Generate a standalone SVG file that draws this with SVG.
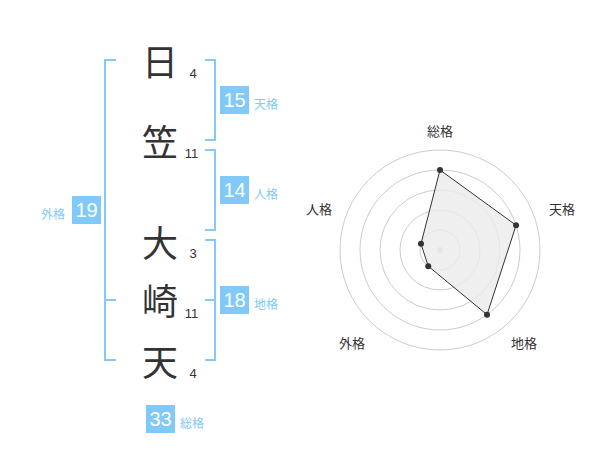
<svg xmlns="http://www.w3.org/2000/svg" width="600" height="470" viewBox="0 0 600 470">
<style>
.ch{font-family:"Noto Sans CJK JP","Noto Sans",sans-serif;font-size:36px;fill:#333;text-anchor:middle;dominant-baseline:central}
.st{font-family:"Liberation Sans",Arial,sans-serif;font-size:13px;fill:#333;text-anchor:middle;dominant-baseline:central}
.br{fill:none;stroke:#85c9f7;stroke-width:2}
.bx{fill:#80c9f8}
.bn{font-family:"Liberation Sans",Arial,sans-serif;font-size:20px;fill:#fff;text-anchor:middle;dominant-baseline:central}
.bl{font-family:"Noto Sans CJK JP",sans-serif;font-size:12px;fill:#80c9f8;dominant-baseline:central}
.rg{fill:none;stroke:#ccc;stroke-width:1}
.rl{font-family:"Noto Sans CJK JP",sans-serif;font-size:13px;fill:#333;text-anchor:middle;dominant-baseline:central}
.pt{fill:#333}
</style>
<rect width="600" height="470" fill="#fff"/>
<g id="chars">
<text class="ch" x="160" y="60">日</text>
<text class="ch" x="160" y="140">笠</text>
<text class="ch" x="160" y="241">大</text>
<text class="ch" x="160" y="299">崎</text>
<text class="ch" x="160" y="360">天</text>
<text class="st" x="193" y="73.5">4</text>
<text class="st" x="191.5" y="153.5">11</text>
<text class="st" x="193" y="253.5">3</text>
<text class="st" x="191.5" y="313.5">11</text>
<text class="st" x="193" y="373.5">4</text>
</g>
<g id="connectors">
<path class="br" d="M116,60 H105 V360 H116 M105,300 H116"/>
<path class="br" d="M205,60 H215 V140 H205"/>
<path class="br" d="M205,150 H215 V230 H205"/>
<path class="br" d="M205,240 H215 V360 H205 M205,300 H215"/>
</g>
<g id="tenkaku">
<rect class="bx" x="220" y="86" width="29" height="28"/>
<text class="bn" x="234.5" y="100">15</text>
<text class="bl" x="254" y="103">天格</text>
</g>
<g id="jinkaku">
<rect class="bx" x="220" y="176" width="29" height="28"/>
<text class="bn" x="234.5" y="190">14</text>
<text class="bl" x="254" y="193">人格</text>
</g>
<g id="gaikaku">
<rect class="bx" x="72" y="196" width="29" height="28"/>
<text class="bn" x="86.5" y="210">19</text>
<text class="bl" x="41" y="213">外格</text>
</g>
<g id="chikaku">
<rect class="bx" x="220" y="286" width="29" height="28"/>
<text class="bn" x="234.5" y="300">18</text>
<text class="bl" x="254" y="303">地格</text>
</g>
<g id="soukaku">
<rect class="bx" x="146" y="405" width="29" height="28"/>
<text class="bn" x="160.5" y="419">33</text>
<text class="bl" x="180" y="422">総格</text>
</g>
<g id="radar">
<circle class="rg" cx="440" cy="250" r="20"/>
<circle class="rg" cx="440" cy="250" r="40"/>
<circle class="rg" cx="440" cy="250" r="60"/>
<circle class="rg" cx="440" cy="250" r="80"/>
<circle class="rg" cx="440" cy="250" r="100"/>
<circle cx="440" cy="250" r="3" fill="#ccc"/>
<polygon points="440,170 516.08,225.28 487.02,314.72 428.24,266.18 420.98,243.82" fill="#ebebeb" fill-opacity="0.8" stroke="#333" stroke-width="1"/>
<circle class="pt" cx="440" cy="170" r="3"/>
<circle class="pt" cx="516.08" cy="225.28" r="3"/>
<circle class="pt" cx="487.02" cy="314.72" r="3"/>
<circle class="pt" cx="428.24" cy="266.18" r="3"/>
<circle class="pt" cx="420.98" cy="243.82" r="3"/>
<text class="rl" x="440" y="130">総格</text>
<text class="rl" x="562" y="208">天格</text>
<text class="rl" x="524" y="342">地格</text>
<text class="rl" x="352" y="342">外格</text>
<text class="rl" x="319" y="208">人格</text>
</g>
</svg>
